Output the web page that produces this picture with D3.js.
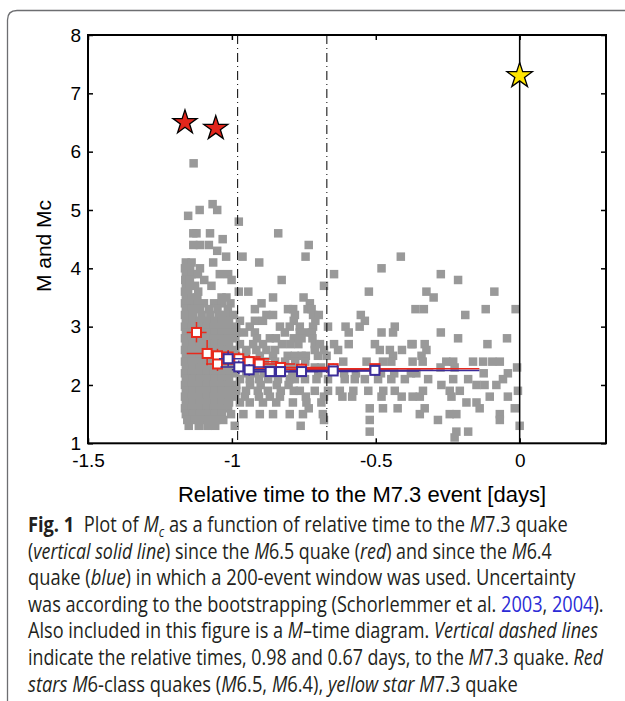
<!DOCTYPE html>
<html lang="en">
<head>
<meta charset="utf-8">
<script src="https://d3js.org/d3.v7.min.js"></script>
<style>
  body { margin: 0; background: #fff; }
  svg { display: block; }
  .tick text { font-family: "Liberation Sans", Arial, sans-serif; font-size: 19px; fill: #000; }
  .tick line { stroke: #000; stroke-width: 1.5; }
  .caption { font-family: "Open Sans", "Noto Sans", sans-serif; font-size: 21px; fill: #231f20; }
</style>
</head>
<body>
<script>
// M-time diagram: one row per magnitude, times (days) relative to the M7.3 event
var catalog = [
  [5.8, [-1.133]],
  [5.1, [-1.067]],
  [5.0, [-1.051, -1.112]],
  [4.9, [-1.152]],
  [4.8, [-0.976]],
  [4.6, [-1.134, -1.123, -1.076, -0.839]],
  [4.5, [-1.032]],
  [4.4, [-1.134, -1.111, -1.080, -0.733]],
  [4.3, [-1.051]],
  [4.2, [-1.020, -0.963, -0.744, -0.413]],
  [4.1, [-1.160, -1.140, -1.065, -0.905]],
  [4.0, [-1.163, -1.145, -1.111, -0.480]],
  [3.9, [-1.160, -1.140, -1.118, -1.042, -1.013, -0.645, -0.274]],
  [3.8, [-1.162, -1.146, -1.096, -1.001, -0.827, -0.214]],
  [3.7, [-1.160, -1.146, -1.128, -1.071, -0.680]],
  [3.6, [-1.163, -1.152, -1.117, -0.976, -0.943, -0.524, -0.324, -0.088]],
  [3.5, [-1.160, -1.140, -1.120, -1.036, -1.019, -0.857, -0.751, -0.299]],
  [3.4, [-1.163, -1.139, -1.118, -1.097, -1.062, -1.035, -1.005, -0.897, -0.729]],
  [3.3, [-1.160, -1.138, -1.111, -1.080, -1.050, -1.014, -0.920, -0.805, -0.787, -0.737, -0.723, -0.362, -0.333, -0.118, -0.014]],
  [3.2, [-1.163, -1.135, -1.105, -1.075, -1.045, -1.020, -0.993, -0.880, -0.857, -0.781, -0.718, -0.698, -0.552, -0.189]],
  [3.1, [-1.160, -1.135, -1.110, -1.085, -1.060, -1.035, -1.010, -0.972, -0.920, -0.892, -0.785, -0.710, -0.538]],
  [3.0, [-1.163, -1.138, -1.113, -1.088, -1.063, -1.038, -1.013, -0.985, -0.938, -0.833, -0.799, -0.764, -0.718, -0.666, -0.605, -0.556, -0.434]],
  [2.9, [-1.160, -1.135, -1.110, -1.085, -1.060, -1.035, -1.010, -0.985, -0.958, -0.920, -0.816, -0.764, -0.743, -0.722, -0.594, -0.480, -0.440, -0.274]],
  [2.8, [-1.163, -1.138, -1.113, -1.088, -1.063, -1.038, -1.013, -0.988, -0.913, -0.868, -0.847, -0.785, -0.758, -0.720, -0.214, -0.044]],
  [2.7, [-1.160, -1.135, -1.110, -1.085, -1.060, -1.035, -1.010, -0.972, -0.926, -0.892, -0.826, -0.797, -0.769, -0.712, -0.694, -0.645, -0.594, -0.503, -0.376, -0.372, -0.330, -0.112]],
  [2.6, [-1.163, -1.138, -1.113, -1.088, -1.063, -1.038, -1.013, -0.988, -0.950, -0.915, -0.880, -0.850, -0.712, -0.680, -0.631, -0.486, -0.451, -0.409, -0.324]],
  [2.5, [-1.160, -1.135, -1.110, -1.085, -1.060, -1.035, -1.010, -0.985, -0.951, -0.903, -0.857, -0.806, -0.781, -0.758, -0.743, -0.701, -0.671, -0.440, -0.341]],
  [2.4, [-1.163, -1.138, -1.113, -1.088, -1.063, -1.038, -1.013, -0.988, -0.954, -0.920, -0.885, -0.850, -0.815, -0.780, -0.745, -0.613, -0.532, -0.475, -0.446, -0.372, -0.337, -0.255, -0.231, -0.162, -0.127, -0.095, -0.069]],
  [2.3, [-1.160, -1.135, -1.110, -1.085, -1.060, -1.035, -1.010, -0.985, -0.955, -0.925, -0.895, -0.865, -0.835, -0.800, -0.781, -0.712, -0.690, -0.275, -0.226, -0.009]],
  [2.2, [-1.163, -1.138, -1.113, -1.088, -1.063, -1.038, -1.013, -0.988, -0.950, -0.920, -0.890, -0.860, -0.830, -0.790, -0.760, -0.700, -0.610, -0.569, -0.482, -0.436, -0.378, -0.359, -0.125, -0.041]],
  [2.1, [-1.160, -1.135, -1.110, -1.085, -1.060, -1.035, -1.010, -0.972, -0.938, -0.906, -0.874, -0.840, -0.799, -0.781, -0.746, -0.706, -0.666, -0.608, -0.573, -0.538, -0.492, -0.446, -0.399, -0.318, -0.231, -0.179, -0.058]],
  [2.0, [-1.163, -1.138, -1.113, -1.088, -1.063, -1.038, -1.013, -0.985, -0.937, -0.900, -0.844, -0.803, -0.272, -0.150, -0.122, -0.081]],
  [1.9, [-1.160, -1.135, -1.110, -1.085, -1.060, -1.035, -1.010, -0.985, -0.951, -0.910, -0.875, -0.830, -0.785, -0.764, -0.712, -0.666, -0.625, -0.578, -0.526, -0.474, -0.434, -0.336, -0.243, -0.208, -0.006]],
  [1.8, [-1.163, -1.138, -1.113, -1.088, -1.063, -1.038, -1.013, -0.988, -0.955, -0.906, -0.868, -0.833, -0.743, -0.680, -0.616, -0.582, -0.480, -0.410, -0.372, -0.347, -0.237, -0.104, -0.041]],
  [1.7, [-1.160, -1.135, -1.110, -1.085, -1.060, -1.035, -1.010, -0.972, -0.938, -0.892, -0.846, -0.788, -0.741, -0.689, -0.185, -0.150]],
  [1.6, [-1.163, -1.138, -1.113, -1.088, -1.063, -1.038, -1.013, -0.733, -0.521, -0.475, -0.424, -0.330, -0.139, -0.017]],
  [1.5, [-1.160, -1.135, -1.110, -1.085, -1.060, -1.035, -1.003, -0.960, -0.903, -0.857, -0.799, -0.753, -0.684, -0.347, -0.243, -0.220, -0.069]],
  [1.4, [-1.155, -1.130, -1.105, -1.080, -1.055, -1.030, -0.680, -0.521, -0.284, -0.069]],
  [1.3, [-1.150, -1.115, -1.085, -1.058, -0.990, -0.761, 0.0]],
  [1.2, [-0.521, -0.220, -0.179]],
  [1.1, [-0.226]]
];

// Mc since the M6.5 quake (red)
var redT   = [-1.123, -1.086, -1.050, -1.050, -1.013, -0.976, -0.940, -0.905, -0.831, -0.758, -0.648, -0.503];
var redMc  = [2.90, 2.54, 2.50, 2.36, 2.48, 2.45, 2.40, 2.36, 2.30, 2.27, 2.28, 2.28];
var redTlo = [-1.157, -1.157, -1.100, -1.090, -1.050, -1.010, -0.980, -0.950, -0.900, -0.820, -0.760, -0.700];
var redThi = [-1.088, -1.030, -0.990, -0.980, -0.900, -0.870, -0.840, -0.780, -0.650, -0.450, -0.300, -0.140];
var redLo  = [2.73, 2.34, 2.38, 2.24, 2.36, 2.34, 2.29, 2.26, 2.21, 2.19, 2.20, 2.20];
var redHi  = [3.08, 2.77, 2.62, 2.48, 2.60, 2.56, 2.51, 2.46, 2.39, 2.37, 2.37, 2.36];

// Mc since the M6.4 quake (blue)
var blueT   = [-1.013, -0.976, -0.940, -0.867, -0.831, -0.758, -0.648, -0.503];
var blueMc  = [2.45, 2.31, 2.26, 2.23, 2.23, 2.23, 2.24, 2.25];
var blueTlo = [-1.045, -1.040, -1.000, -0.960, -0.930, -0.880, -0.800, -0.760];
var blueThi = [-0.960, -0.880, -0.850, -0.760, -0.700, -0.560, -0.350, -0.140];
var blueLo  = [2.32, 2.19, 2.16, 2.14, 2.15, 2.15, 2.16, 2.16];
var blueHi  = [2.58, 2.42, 2.36, 2.32, 2.31, 2.31, 2.32, 2.33];

// big events
var starT = [-1.163, -1.056, 0];
var starM = [6.5, 6.4, 7.3];
var starFill = ["#e2261c", "#e2261c", "#ffe500"];

var dashT = [-0.98, -0.67];
var mainT = 0;

var xTicks = [-1.5, -1, -0.5, 0];
var yTicks = [1, 2, 3, 4, 5, 6, 7, 8];

var caption = [
  [["Fig. 1", "b"], ["Plot of ", "gap"], ["M", "i"], ["c", "sub"], [" as a function of relative time to the ", ""], ["M", "i"], ["7.3 quake", ""]],
  [["(", ""], ["vertical solid line", "i"], [") since the ", ""], ["M", "i"], ["6.5 quake (", ""], ["red", "i"], [") and since the ", ""], ["M", "i"], ["6.4", ""]],
  [["quake (", ""], ["blue", "i"], [") in which a 200-event window was used. Uncertainty", ""]],
  [["was according to the bootstrapping (Schorlemmer et al. ", ""], ["2003", "link"], [", ", ""], ["2004", "link"], [").", ""]],
  [["Also included in this figure is a ", ""], ["M", "i"], ["\u2013time diagram. ", ""], ["Vertical dashed lines", "i"]],
  [["indicate the relative times, 0.98 and 0.67 days, to the ", ""], ["M", "i"], ["7.3 quake. ", ""], ["Red", "i"]],
  [["stars ", "i"], ["M", "i"], ["6-class quakes (", ""], ["M", "i"], ["6.5, ", ""], ["M", "i"], ["6.4), ", ""], ["yellow star ", "i"], ["M", "i"], ["7.3 quake", ""]]
];
var captionRight = [568, 552, 576, 604, 598, 604, 518];

var width = 625, height = 701;
var svg = d3.select("body").append("svg")
    .attr("width", width)
    .attr("height", height);

// panel frame
svg.append("path")
    .attr("d", "M7.5,705 L7.5,20 Q7.5,10.5 17,10.5 L630,10.5")
    .attr("fill", "none")
    .attr("stroke", "#6d6e71")
    .attr("stroke-width", 1.3);

var x = d3.scaleLinear().domain([-1.5, 0.3]).range([88, 606]);
var y = d3.scaleLinear().domain([1, 8]).range([443.3, 35]);

var points = [];
catalog.forEach(function(row) {
  row[1].forEach(function(t) { points.push({t: t, m: row[0]}); });
});

var sq = 8.5;
svg.append("g").selectAll("rect")
    .data(points)
    .enter().append("rect")
    .attr("x", function(d) { return x(d.t) - sq / 2; })
    .attr("y", function(d) { return y(d.m) - sq / 2; })
    .attr("width", sq)
    .attr("height", sq)
    .attr("fill", "#999999");

// vertical reference lines
svg.append("g").selectAll("line")
    .data(dashT)
    .enter().append("line")
    .attr("x1", function(d) { return x(d); })
    .attr("x2", function(d) { return x(d); })
    .attr("y1", y(8)).attr("y2", y(1))
    .attr("stroke", "#000")
    .attr("stroke-width", 1)
    .attr("stroke-dasharray", "9,4,1,4");

svg.append("line")
    .attr("x1", x(mainT)).attr("x2", x(mainT))
    .attr("y1", y(8)).attr("y2", y(1))
    .attr("stroke", "#000")
    .attr("stroke-width", 1.5);

function drawSeries(t, mc, tlo, thi, lo, hi, color) {
  var g = svg.append("g");
  var idx = d3.range(t.length);
  g.selectAll(".hbar").data(idx).enter().append("line")
      .attr("x1", function(i) { return x(tlo[i]); })
      .attr("x2", function(i) { return x(thi[i]); })
      .attr("y1", function(i) { return y(mc[i]); })
      .attr("y2", function(i) { return y(mc[i]); })
      .attr("stroke", color).attr("stroke-width", 1.5);
  g.selectAll(".vbar").data(idx).enter().append("line")
      .attr("x1", function(i) { return x(t[i]); })
      .attr("x2", function(i) { return x(t[i]); })
      .attr("y1", function(i) { return y(lo[i]); })
      .attr("y2", function(i) { return y(hi[i]); })
      .attr("stroke", color).attr("stroke-width", 1.5);
  g.selectAll("rect").data(idx).enter().append("rect")
      .attr("x", function(i) { return x(t[i]) - 4.5; })
      .attr("y", function(i) { return y(mc[i]) - 4.5; })
      .attr("width", 9).attr("height", 9)
      .attr("fill", "#fff")
      .attr("stroke", color).attr("stroke-width", 2);
}
drawSeries(redT, redMc, redTlo, redThi, redLo, redHi, "#e8291c");
drawSeries(blueT, blueMc, blueTlo, blueThi, blueLo, blueHi, "#3b2d9a");

// stars
svg.append("g").selectAll("path")
    .data(d3.range(starT.length))
    .enter().append("path")
    .attr("transform", function(i) { return "translate(" + x(starT[i]) + "," + y(starM[i]) + ")"; })
    .attr("d", function(i) { return d3.symbol(d3.symbolStar, i === 2 ? 200 : 180)(); })
    .attr("fill", function(i) { return starFill[i]; })
    .attr("stroke", "#000")
    .attr("stroke-width", 1.3);

// axes (ticks inside the box)
function clean(g) { g.select(".domain").remove(); }
svg.append("g").attr("transform", "translate(0," + y(1) + ")")
    .call(d3.axisBottom(x).tickValues(xTicks).tickSizeInner(-5).tickSizeOuter(0).tickPadding(10)
      .tickFormat(function(d) { return String(d); }))
    .call(clean);
svg.append("g").attr("transform", "translate(0," + y(8) + ")")
    .call(d3.axisTop(x).tickValues(xTicks).tickSizeInner(-5).tickSizeOuter(0).tickFormat(""))
    .call(clean);
svg.append("g").attr("transform", "translate(" + x(-1.5) + ",0)")
    .call(d3.axisLeft(y).tickValues(yTicks).tickSizeInner(-5).tickSizeOuter(0).tickPadding(7)
      .tickFormat(function(d) { return String(d); }))
    .call(clean);
svg.append("g").attr("transform", "translate(" + x(0.3) + ",0)")
    .call(d3.axisRight(y).tickValues(yTicks).tickSizeInner(-5).tickSizeOuter(0).tickFormat(""))
    .call(clean);
svg.selectAll(".tick text").attr("font-family", null).attr("font-size", null);

svg.append("rect")
    .attr("x", x(-1.5)).attr("y", y(8))
    .attr("width", x(0.3) - x(-1.5)).attr("height", y(1) - y(8))
    .attr("fill", "none").attr("stroke", "#000").attr("stroke-width", 2);

svg.append("text")
    .attr("transform", "translate(44,246) rotate(-90)")
    .attr("text-anchor", "middle")
    .attr("dy", "0.35em")
    .style("font-family", "'Liberation Sans', Arial, sans-serif")
    .style("font-size", "21px")
    .text("M and Mc");

svg.append("text")
    .attr("x", 362).attr("y", 502)
    .attr("text-anchor", "middle")
    .style("font-family", "'Liberation Sans', Arial, sans-serif")
    .style("font-size", "22px")
    .text("Relative time to the M7.3 event [days]");

// caption
var capLeft = 28;
caption.forEach(function(line, li) {
  var base = 532 + li * 26.6;
  var txt = svg.append("text").attr("class", "caption")
      .attr("x", 0).attr("y", 0);
  var shifted = false;
  line.forEach(function(seg) {
    var ts = txt.append("tspan").text(seg[0]);
    if (shifted) { ts.attr("dy", -5); shifted = false; }
    if (seg[1] === "b") ts.style("font-weight", "bold");
    if (seg[1] === "gap") ts.attr("dx", 11);
    if (seg[1] === "i") ts.style("font-style", "italic");
    if (seg[1] === "sub") { ts.style("font-style", "italic").style("font-size", "14px").attr("dy", 5); shifted = true; }
    if (seg[1] === "link") ts.style("fill", "#2b2bd6");
  });
  var w = txt.node().getBBox().width;
  var k = (captionRight[li] - capLeft) / w;
  txt.attr("transform", "translate(" + capLeft + "," + base + ") scale(" + k + ",1)");
});
</script>
</body>
</html>
